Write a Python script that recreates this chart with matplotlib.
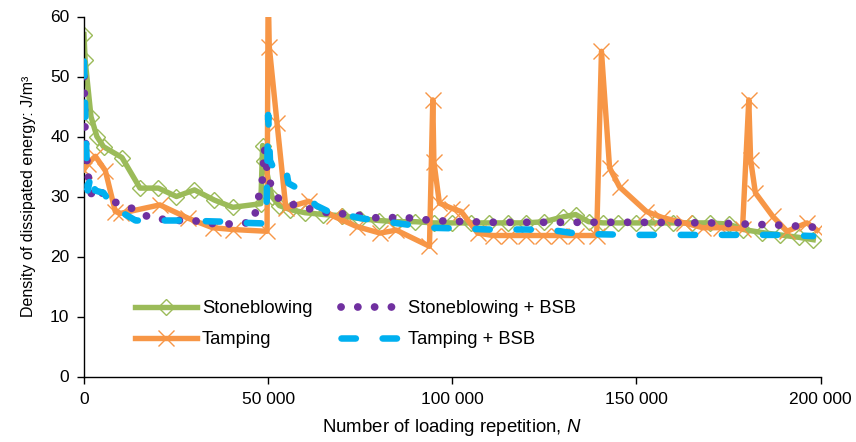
import matplotlib
matplotlib.use("Agg")
import matplotlib.pyplot as plt
from matplotlib import font_manager
from matplotlib.ticker import FuncFormatter

plt.rcParams['font.family'] = ['Liberation Sans', 'DejaVu Sans']
plt.rcParams['mathtext.fontset'] = 'custom'

def has_font(name):
    try:
        font_manager.findfont(font_manager.FontProperties(family=name), fallback_to_default=False)
        return True
    except Exception:
        return False

NARROW = has_font('Liberation Sans Narrow')
if NARROW:
    LBL_FAM, XLBL_SIZE, YLBL_SIZE, LEG_SIZE = 'Liberation Sans Narrow', 16.6, 14.4, 16.0
else:
    LBL_FAM, XLBL_SIZE, YLBL_SIZE, LEG_SIZE = 'Liberation Sans', 13.4, 11.5, 13.2
plt.rcParams['mathtext.it'] = LBL_FAM + ':italic'
plt.rcParams['mathtext.rm'] = LBL_FAM

# ---- data ----
sb_n = [0, 300, 1900, 3500, 5300, 10300, 15200, 20200, 25100, 30000, 35400, 40400,
        48000, 48500, 49000, 51000, 53000, 56000, 60000, 65000, 70000, 75000, 80000,
        85000, 90000, 95000, 100000, 105000, 110000, 115000, 120000, 125000, 130000,
        133500, 137000, 141000, 145000, 150000, 155000, 160000, 165000, 170000,
        175000, 179000, 184000, 189000, 194000, 198000]
sb_v = [57.0, 52.8, 43.3, 40.0, 38.3, 36.5, 31.4, 31.4, 30.0, 31.1, 29.4, 28.2,
        28.8, 38.5, 36.0, 30.0, 28.5, 27.8, 27.3, 27.0, 26.8, 26.3, 26.0,
        25.8, 25.8, 25.6, 25.6, 25.6, 25.6, 25.6, 25.6, 25.8, 26.6,
        27.0, 25.8, 25.6, 25.6, 25.6, 25.6, 25.6, 25.6, 25.6,
        25.4, 24.5, 24.0, 23.6, 23.2, 22.8]

tp_n = [0, 1000, 3100, 5800, 8500, 10000, 20600, 28200, 34900, 40400, 49700,
        50000, 50300, 52400, 54800, 61000, 67800, 74000, 80400, 84800, 93800,
        94700, 95000, 96500, 100000, 102400, 106900, 111000, 115500, 120000,
        124500, 129000, 133500, 139200, 140500, 142700, 145400, 152700, 157000,
        163000, 168000, 173000, 178800, 180500, 181000, 182300, 187000, 190900,
        196300, 199000]
tp_v = [34.5, 35.5, 36.7, 34.3, 27.5, 27.2, 28.6, 26.4, 24.8, 24.5, 24.2,
        65.0, 55.0, 42.3, 28.1, 29.2, 26.7, 25.0, 23.9, 24.4, 21.7,
        46.1, 35.8, 28.9, 28.0, 27.5, 23.9, 23.5, 23.5, 23.5,
        23.5, 23.5, 23.5, 23.5, 54.2, 34.8, 31.6, 27.5, 26.5,
        25.6, 24.8, 24.8, 24.6, 46.1, 36.1, 30.6, 26.7, 24.2,
        25.6, 24.4]

sbb_n = [0, 300, 800, 1500, 3000, 5000, 7000, 9000, 14000, 18000, 25000, 30000,
         33000, 37000, 41000, 46000, 48500, 49000, 50000, 51500, 53000, 56000,
         60000, 64000, 68000, 72000, 76000, 80000, 85000, 89000, 93000, 98000,
         110000, 130000, 150000, 170000, 180000, 190000, 198000]
sbb_v = [50.0, 40.0, 36.0, 31.0, 29.5, 30.6, 29.5, 28.9, 27.8, 26.4, 26.0, 26.0,
         25.4, 25.6, 25.3, 25.8, 33.0, 38.0, 33.0, 31.0, 29.5, 28.8,
         28.1, 27.6, 27.0, 27.2, 26.7, 26.4, 26.5, 26.4, 26.1, 25.9,
         25.7, 25.7, 25.7, 25.6, 25.4, 25.2, 24.9]

tpb_n = [0, 500, 1000, 2000, 3000, 5300, 8000, 10700, 14000, 19000, 25000, 32000,
         38000, 44000, 49500, 50000, 50500, 52000, 54800, 55500, 57000, 59700,
         63000, 67000, 71000, 76000, 82000, 88000, 93000, 100000, 110000, 120000,
         127000, 134000, 140000, 150000, 160000, 170000, 180000, 190000, 198000]
tpb_v = [52.5, 40.0, 31.0, 34.0, 31.0, 30.6, 28.3, 27.2, 26.0, 26.0, 26.0, 25.9,
         25.8, 25.6, 25.5, 43.6, 36.0, 34.0, 34.7, 32.2, 31.7, 30.6,
         28.5, 27.3, 26.9, 26.3, 25.8, 25.3, 24.8, 24.7, 24.5, 24.5,
         24.4, 23.8, 23.7, 23.6, 23.6, 23.6, 23.6, 23.6, 23.4]

x_ticks = [0, 50000, 100000, 150000, 200000]
y_ticks = [0, 10, 20, 30, 40, 50, 60]

GREEN = '#9BBB59'
ORANGE = '#F79646'
PURPLE = '#7030A0'
CYAN = '#00B0F0'

W, H = 856, 442
fig = plt.figure(figsize=(W / 100, H / 100), dpi=100)
ax = fig.add_axes([84 / W, (H - 376.5) / H, (820.6 - 84) / W, 360 / H])

ax.plot(sb_n, sb_v, color=GREEN, lw=3.9, marker='D', ms=8.5, mfc='none',
        mec=GREEN, mew=1.0, label='Stoneblowing', zorder=2, solid_joinstyle='round')
ax.plot(tp_n, tp_v, color=ORANGE, lw=3.9, marker='x', ms=12, mec=ORANGE,
        mew=1.0, label='Tamping', zorder=3, solid_joinstyle='round')
ax.plot(sbb_n, sbb_v, color=PURPLE, lw=5.6, linestyle=(0, (0.01, 2.15)),
        dash_capstyle='round', label='Stoneblowing + BSB', zorder=4)
ax.plot(tpb_n, tpb_v, color=CYAN, lw=4.7, linestyle=(0, (2.2, 4.1)),
        dash_capstyle='round', label='Tamping + BSB', zorder=5)

ax.set_xlim(0, 200000)
ax.set_ylim(0, 60)
ax.set_xticks(x_ticks)
ax.set_yticks(y_ticks)
ax.xaxis.set_major_formatter(FuncFormatter(lambda v, p: f"{int(v):,}".replace(',', ' ')))
for s in ['top', 'right']:
    ax.spines[s].set_visible(False)
for s in ['left', 'bottom']:
    ax.spines[s].set_linewidth(1.0)
    ax.spines[s].set_color('black')
ax.tick_params(direction='out', length=5, width=1.0, labelsize=12.5, colors='black')
ax.tick_params(axis='y', pad=5.5)
ax.tick_params(axis='x', pad=6)
ax.set_xlabel('Number of loading repetition, $N$', fontsize=XLBL_SIZE, family=LBL_FAM, labelpad=7)
ax.set_ylabel('Density of dissipated energy: J/m³', fontsize=YLBL_SIZE, family=LBL_FAM, labelpad=10)

fs_px = LEG_SIZE * 100 / 72
ax.legend(loc='upper left', bbox_to_anchor=(135 / W, 1 - 300 / H), bbox_transform=fig.transFigure,
          ncol=2, frameon=False, prop={'family': LBL_FAM, 'size': LEG_SIZE},
          borderpad=0, borderaxespad=0,
          handlelength=62 / fs_px, handletextpad=5 / fs_px,
          columnspacing=28 / fs_px, labelspacing=0.4 + 7 / fs_px)

fig.savefig('out.png', dpi=100)
